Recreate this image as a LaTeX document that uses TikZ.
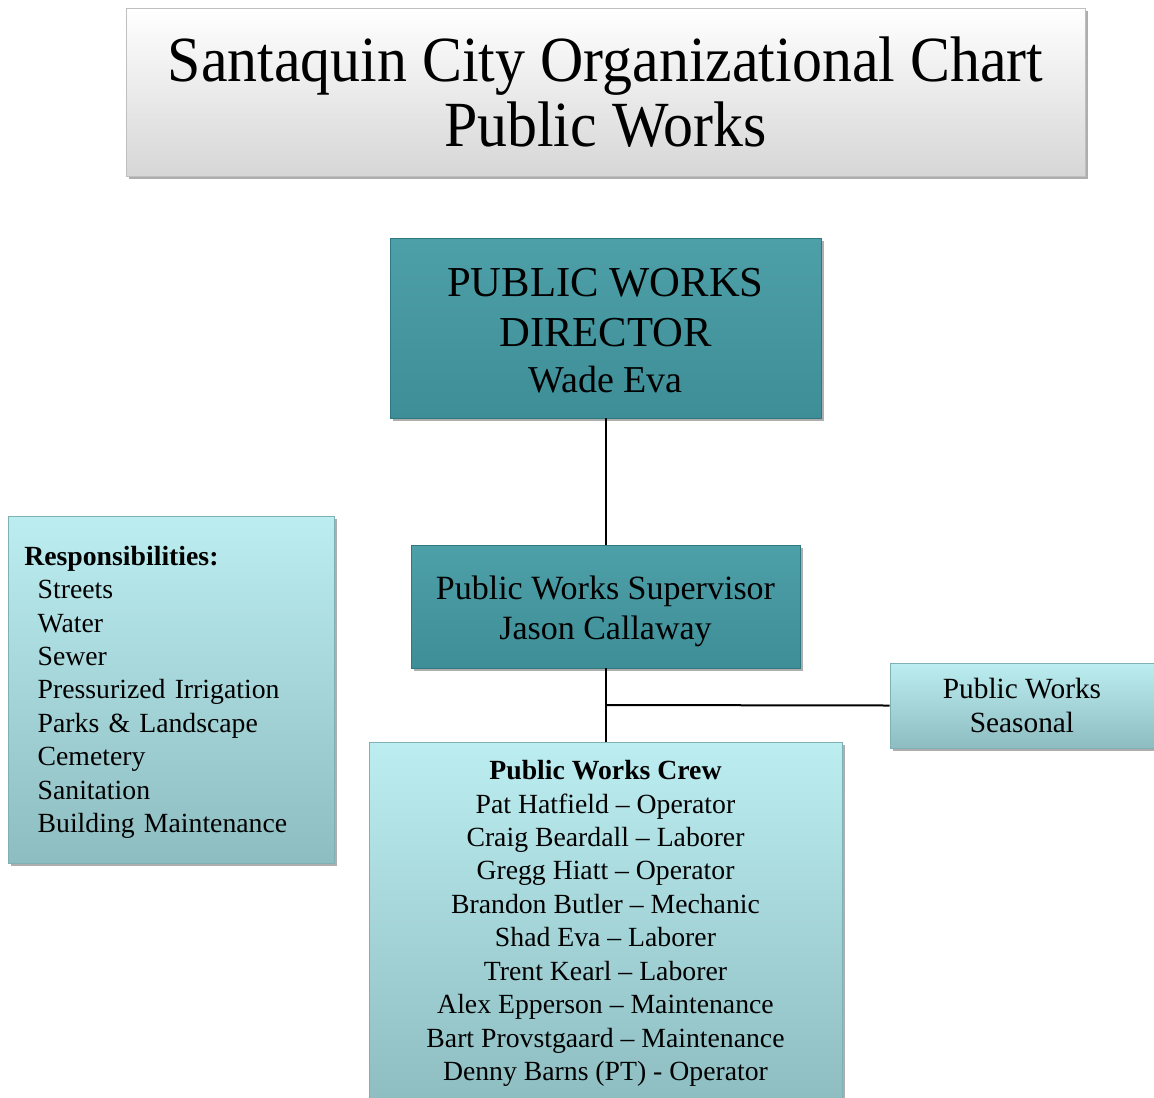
\documentclass[tikz,border=0pt]{standalone}
\usepackage{fontspec}
\setmainfont{Liberation Serif}
\newfontfamily\titlefont[FakeStretch=0.93]{Liberation Serif}
\usetikzlibrary{shadows}
\definecolor{teal1}{HTML}{4D9FA8}
\definecolor{teal2}{HTML}{3E8E97}
\definecolor{tealedge}{HTML}{2F7880}
\definecolor{aqua1}{HTML}{BCEDF1}
\definecolor{aqua2}{HTML}{8DBDC1}
\definecolor{aquaedge}{HTML}{7FB0B5}
\tikzset{
  shad/.style={drop shadow={opacity=0.45,shadow xshift=2pt,shadow yshift=-2.5pt,fill=black!70}},
  titlebox/.style={shad,draw=black!25,line width=0.6pt,top color=white,bottom color=black!16,inner sep=0pt},
  tealbox/.style={shad,draw=tealedge,line width=0.6pt,top color=teal1,bottom color=teal2,inner sep=0pt,align=center},
  aquabox/.style={shad,draw=aquaedge,line width=0.6pt,top color=aqua1,bottom color=aqua2,inner sep=0pt},
  link/.style={draw=black,line width=1.5pt},
}
\begin{document}
\begin{tikzpicture}[x=0.75pt,y=-0.75pt]
\useasboundingbox (0,0) rectangle (1154,1097);
\fill[white] (0,0) rectangle (1154,1097);

\node[titlebox,minimum width=719.25pt,minimum height=126pt,align=center,
  font=\titlefont\fontsize{48.3}{49}\selectfont] (title) at (605.5,92)
  {Santaquin City Organizational Chart\\Public Works};

\node[tealbox,minimum width=323.25pt,minimum height=135pt,
  font=\fontsize{32}{37.5}\selectfont] (dir) at (605.5,328)
  {\rule{0pt}{25.5pt}PUBLIC WORKS\\DIRECTOR\\[-3pt]{\fontsize{28.5}{36}\selectfont Wade Eva}};

\node[tealbox,minimum width=291.75pt,minimum height=92.25pt,
  font=\fontsize{25.5}{30}\selectfont] (sup) at (605.5,606.5)
  {\rule{0pt}{25pt}Public Works Supervisor\\Jason Callaway};

\node[aquabox,minimum width=244.5pt,minimum height=260.25pt,text width=232pt,align=left,
  font=\fontsize{20.8}{25.1}\selectfont] (resp) at (171,689.5)
  {\rule{0pt}{18.7pt}\hspace*{6pt}\textbf{Responsibilities:}\\
   \hspace*{16pt}Streets\\
   \hspace*{16pt}Water\\
   \hspace*{16pt}Sewer\\
   \hspace*{16pt}Pressurized Irrigation\\
   \hspace*{16pt}Parks \& Landscape\\
   \hspace*{16pt}Cemetery\\
   \hspace*{16pt}Sanitation\\
   \hspace*{16pt}Building Maintenance};

\node[aquabox,minimum width=198pt,minimum height=63.75pt,align=center,
  font=\fontsize{22}{25}\selectfont] (seas) at (1022,705.5)
  {Public Works\\Seasonal};

\node[aquabox,minimum width=354.75pt,minimum height=272.25pt,align=center,
  font=\fontsize{20.8}{25.1}\selectfont] (crew) at (605.5,923.5)
  {\textbf{Public Works Crew}\\
   Pat Hatfield -- Operator\\
   Craig Beardall -- Laborer\\
   Gregg Hiatt -- Operator\\
   Brandon Butler -- Mechanic\\
   Shad Eva -- Laborer\\
   Trent Kearl -- Laborer\\
   Alex Epperson -- Maintenance\\
   Bart Provstgaard -- Maintenance\\
   Denny Barns (PT) - Operator};

\coordinate (jn) at (605.5,705);
\draw[link] (dir.south) -- (sup.north);
\draw[link] (sup.south) -- (crew.north);
\draw[link] (jn) -- (seas.west);
\end{tikzpicture}
\end{document}
